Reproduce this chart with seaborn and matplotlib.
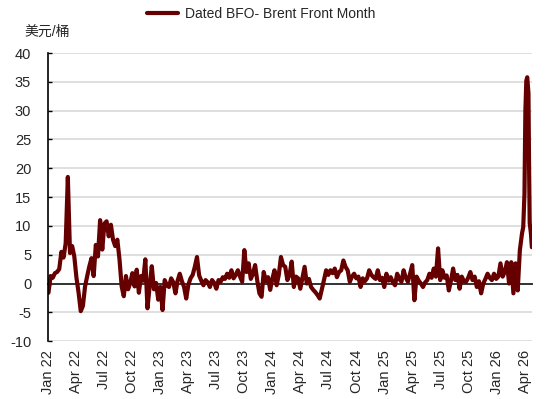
import pandas as pd
import numpy as np
import matplotlib
matplotlib.use("Agg")
import matplotlib.pyplot as plt
import matplotlib.dates as mdates
import seaborn as sns

# Valores semanais (segunda-feira), a partir de 2022-01-03
valores_semanais = [
    -1.6, 1.3, 1.0, 1.8, 2.0, 2.5, 5.5, 4.5, 7.0, 18.5,
    5.3, 6.5, 4.7, 1.0, -1.6, -4.8, -3.9, -0.5, 1.3, 3.0,
    4.4, 1.3, 6.7, 4.7, 11.0, 5.9, 10.4, 10.8, 8.2, 10.2,
    7.6, 6.5, 7.6, 4.2, -0.5, -2.2, 1.3, -1.0, 0.1, 1.8,
    -0.5, 2.4, -1.6, 1.3, 0.5, 4.2, -4.3, -0.5, 3.0, -1.0,
    0.1, -2.8, -0.6, -4.6, 0.6, -0.3, -0.6, 0.9, 0.2, -1.7,
    0.5, 1.7, 0.4, -0.6, -2.6, -0.2, 0.9, 1.5, 2.9, 4.6,
    1.4, 0.5, -0.3, 0.6, 0.2, -0.6, 0.6, 0.1, -0.9, 0.6,
    0.3, 1.1, 0.8, 1.7, 1.0, 2.3, 0.9, 1.5, 2.3, 1.2,
    0.3, 5.8, 2.0, 3.5, 0.8, 1.7, 3.2, 0.5, -1.7, -2.3,
    2.0, 0.4, 1.1, -1.1, 0.8, 2.3, -0.3, 1.5, 4.6, 3.2,
    2.9, 0.6, 1.5, 3.8, -0.6, 1.2, 0.9, -0.9, 1.0, 2.9,
    0.0, 0.8, -0.6, -1.1, -1.5, -2.0, -2.6, -1.0, 0.6, 2.3,
    1.5, 2.3, 1.8, 2.6, 1.1, 2.0, 2.3, 4.0, 2.9, 2.3,
    0.3, 1.2, 1.7, 0.9, 1.2, -0.6, 0.9, 0.4, 0.9, 2.3,
    1.5, 1.1, 0.8, 2.3, 0.6, 1.0, -0.6, 1.7, 0.5, 1.1,
    0.2, -0.3, 1.7, 0.8, 0.3, 2.3, 1.0, 0.3, 1.7, 3.2,
    -2.9, 1.2, 0.5, 0.0, -0.6, 0.2, 0.6, 1.7, 1.0, 2.6,
    1.2, 6.1, 0.6, 2.3, 1.0, 1.4, -1.2, 0.5, 2.6, 0.6,
    1.5, -0.9, 1.2, 0.4, 0.3, 1.0, 2.0, 0.6, 1.2, -0.6,
    0.4, -1.7, 0.0, 0.8, 1.7, 1.0, 0.6, 1.7, 0.8, 1.2,
    3.5, 1.2, 2.0, 3.7, 0.0, 3.7, -1.7, 3.5, -1.2,
]

# Pico final (março-abril 2026), pontos mais próximos
datas_pico = [
    "2026-03-16", "2026-03-23", "2026-03-27", "2026-03-31", "2026-04-03",
    "2026-04-06", "2026-04-09", "2026-04-13", "2026-04-15", "2026-04-17",
    "2026-04-21", "2026-04-24",
]
valores_pico = [5.8, 8.7, 9.8, 15.6, 30.0, 35.2, 35.8, 33.0, 20.2, 10.5, 8.7, 6.3]

datas_semanais = pd.date_range("2022-01-03", periods=len(valores_semanais), freq="W-MON")

df = pd.DataFrame({
    "DATA": list(datas_semanais) + list(pd.to_datetime(datas_pico)),
    "SPREAD": valores_semanais + valores_pico,
})

cor_linha = "#660000"

sns.set_style("white")
plt.rcParams["font.family"] = ["Liberation Sans", "Noto Sans CJK SC", "DejaVu Sans"]
plt.rcParams["axes.unicode_minus"] = False

fig = plt.figure(figsize=(5.5, 3.99), dpi=100)
ax = fig.add_axes([0.087, 0.145, 0.88, 0.722])

sns.lineplot(data=df, x="DATA", y="SPREAD", color=cor_linha, linewidth=3.0,
             ax=ax, label="Dated BFO- Brent Front Month", legend=False)

# Eixos e grelha
ax.set_ylim(-10, 40)
ax.set_yticks(range(-10, 45, 5))
ax.set_xlim(pd.Timestamp("2022-01-01"), pd.Timestamp("2026-04-24"))
ax.grid(True, axis="y", color="#D9D9D9", linewidth=1.2)
ax.set_axisbelow(True)
ax.set_xlabel("")
ax.set_ylabel("")

ax.spines["top"].set_visible(False)
ax.spines["right"].set_visible(False)
ax.spines["left"].set_color("black")
ax.spines["left"].set_linewidth(1.2)
ax.spines["bottom"].set_position(("data", 0))
ax.spines["bottom"].set_color("#333333")
ax.spines["bottom"].set_linewidth(1.4)
ax.spines["bottom"].set_zorder(1)

ax.xaxis.set_major_locator(mdates.MonthLocator(bymonth=[1, 4, 7, 10]))
ax.xaxis.set_major_formatter(mdates.DateFormatter("%b %y"))
ax.tick_params(axis="x", direction="in", length=3, width=1, color="#333333",
               labelsize=10.5, pad=48, labelrotation=90)
ax.tick_params(axis="y", direction="in", length=3, width=1, color="black",
               labelsize=10.5, pad=12, left=True)

fig.text(0.045, 0.92, "美元/桶", fontsize=10, ha="left", va="center")

handles, labels = ax.get_legend_handles_labels()
fig.legend(handles, labels, loc="center", bbox_to_anchor=(0.475, 0.965),
           frameon=False, fontsize=10, handlelength=2.2, handletextpad=0.5)

plt.savefig("out.png", dpi=100)
